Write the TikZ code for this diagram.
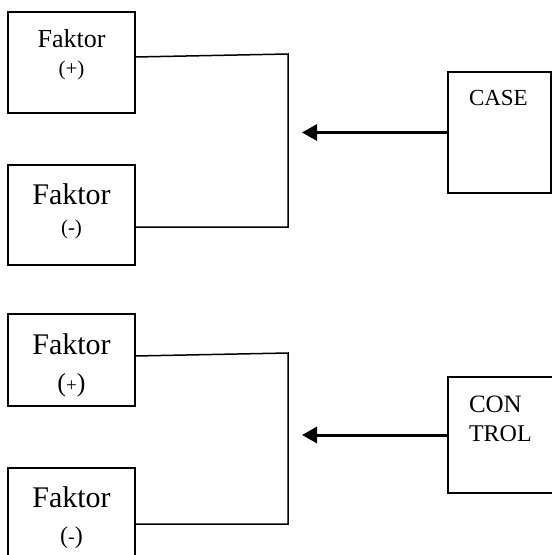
\documentclass[tikz,border=0pt]{standalone}
\usepackage{fontspec}
\setmainfont{Liberation Serif}
\usetikzlibrary{arrows.meta,calc}
\newcommand{\fsz}[1]{\fontsize{#1}{#1}\selectfont}
\tikzset{
  box/.style={draw=black, line width=1.5pt, inner sep=0pt, outer sep=0pt, rectangle},
  lbl/.style={anchor=base, inner sep=0pt, outer sep=0pt, text=black},
  conn/.style={draw=black, line width=1.5pt},
  arr/.style={draw=black, line width=3pt, -{Triangle[length=15pt,width=16pt]}}
}
\begin{document}
\begin{tikzpicture}[x=1pt,y=-1pt]
\useasboundingbox[fill=white] (0,0) rectangle (552,555);
\clip (0,0) rectangle (552,555);
% boxes
\node[box, minimum width=127pt, minimum height=101pt] (b1) at (71.5,62.5) {};
\node[box, minimum width=127pt, minimum height=100pt] (b2) at (71.5,215) {};
\node[box, minimum width=127pt, minimum height=92pt] (b3) at (71.5,360) {};
\node[box, minimum width=127pt, minimum height=110pt] (b4) at (71.5,523) {};
\node[box, minimum width=103pt, minimum height=121pt] (case) at (499.5,132.5) {};
\node[box, minimum width=112pt, minimum height=116pt] (ctrl) at (504,435) {};
% labels
\node[lbl, font=\fsz{26}] (t1a) at (71.5,47) {Faktor};
\node[lbl, font=\fsz{21}] (t1b) at (71.5,75) {(+)};
\node[lbl, font=\fsz{30}] (t2a) at (71.5,204) {Faktor};
\node[lbl, font=\fsz{21}] (t2b) at (71.5,234) {(-)};
\node[lbl, font=\fsz{30}] (t3a) at (71.5,354) {Faktor};
\node[lbl] (t3b) at (71.5,391) {\fsz{26}(\fsz{19}+\fsz{26})};
\node[lbl, font=\fsz{30}] (t4a) at (71.5,507) {Faktor};
\node[lbl] (t4b) at (71.5,543) {\fsz{24}(\fsz{20}-\fsz{24})};
\node[lbl, anchor=base west, font=\fsz{23}] (tc) at (469,105) {CASE};
\node[lbl, anchor=base west, font=\fsz{25}] (tk1) at (469,412) {CON};
\node[lbl, anchor=base west, font=\fsz{24}] (tk2) at (469,441) {TROL};
% junction coordinates
\coordinate (p1) at ($(b1.north east)+(0,45)$);
\coordinate (j1) at (288,54);
\coordinate (j2) at (288,227);
\coordinate (p2) at ($(b2.south east)+(0,-38)$);
\coordinate (p3) at ($(b3.north east)+(0,42)$);
\coordinate (j3) at (288,353);
\coordinate (j4) at (288,524);
\coordinate (p4) at ($(b4.north east)+(0,56)$);
\coordinate (a1) at (302,132.5);
\coordinate (a2) at (302,435);
% connectors
\draw[conn] (p1) -- (j1) -- (j2) -- (p2);
\draw[conn] (p3) -- (j3) -- (j4) -- (p4);
\draw[arr] (case.west) -- (a1);
\draw[arr] (ctrl.west) -- (a2);
\end{tikzpicture}
\end{document}
